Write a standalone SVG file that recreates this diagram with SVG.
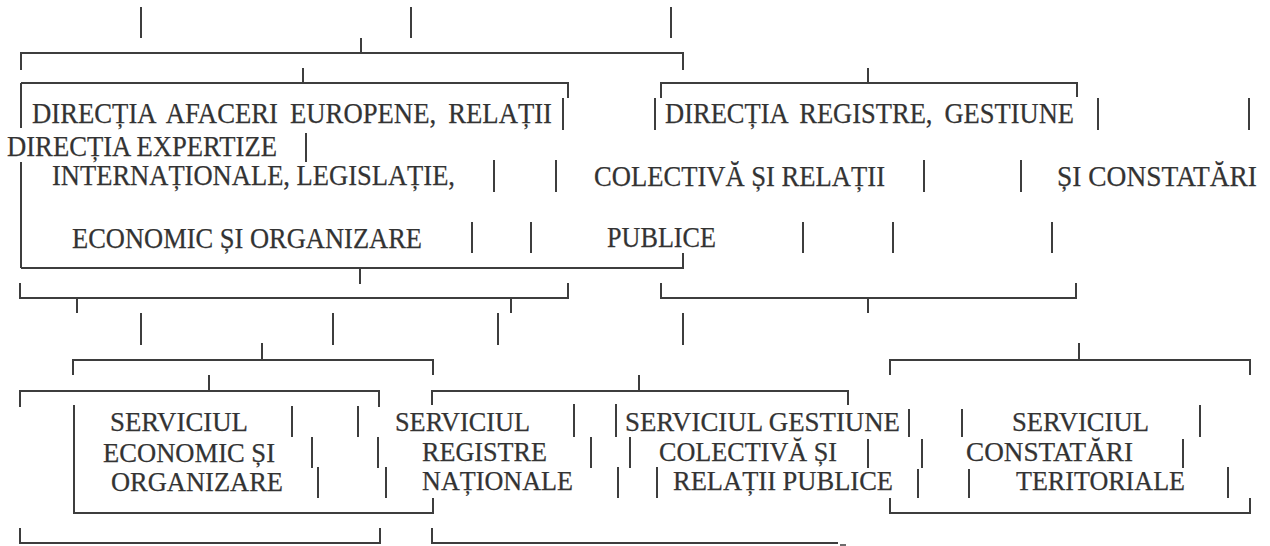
<svg xmlns="http://www.w3.org/2000/svg" width="1270" height="546" viewBox="0 0 1270 546">
<style>
.ln{stroke:#3d3d3d;stroke-width:2;fill:none;stroke-linecap:butt}
.t{font-family:"Liberation Serif","Times New Roman",serif;font-size:27.5px;fill:#333;stroke:#333;stroke-width:0.25}
.tt{font-family:"Liberation Serif","Times New Roman",serif;font-size:29.5px;fill:#333;stroke:#333;stroke-width:0.25}
.ws{word-spacing:6px}
</style>
<rect width="1270" height="546" fill="#fff"/>
<g id="connectors" class="ln">
<path d="M141 7V38M411 7V38M671 7V38"/>
<path d="M21 70V53H683V70M361 38V53"/>
<path d="M21 83H568V98M303 68V83"/>
<path d="M21 83V128M21 162V268"/>
<path d="M661 98V83H1077V97M868 68V83"/>
<path d="M563 98V130M655 98V130M1098 98V130M1249 98V130"/>
<path d="M306 133V162"/>
<path d="M494 160V192M556 160V192M924 160V192M1021 160V192"/>
<path d="M472 222V253M531 222V253M803 222V253M893 222V253M1052 222V253"/>
<path d="M21 268H683V253M360 268V284"/>
<path d="M20 283V298H568V283M77 298V313M511 298V313"/>
<path d="M661 283V298H1076V283M868 298V313"/>
<path d="M141 313V345M333 313V345M498 313V345M683 313V345"/>
<path d="M73 375V360H433V375M262 343V360"/>
<path d="M890 375V360H1250V375M1079 343V360"/>
<path d="M20 407V391H379V407M209 375V391"/>
<path d="M432 405V391H848V405M639 375V391"/>
<path d="M292 406V437M358 406V437M574 404V437M616 404V437M909 409V437M962 409V437M1200 405V437"/>
<path d="M312 437V468M378 437V468M591 437V468M630 437V468M868 439V468M922 439V468M1183 439V468"/>
<path d="M318 467V498M386 467V498M618 467V498M657 467V498M918 469V498M969 469V498M1228 467V498"/>
<path d="M74 405V513H433V498"/>
<path d="M890 498V513H1250V498"/>
<path d="M20 528V543H380V528"/>
<path d="M432 528V543H838"/>
<path d="M840 545H846" stroke-width="1.5"/>
</g>
<g id="node-directia-afaceri">
<text class="tt ws" x="32" y="123" textLength="520" lengthAdjust="spacingAndGlyphs">DIRECȚIA AFACERI EUROPENE, RELAȚII</text>
<text class="tt" x="52" y="185" textLength="403" lengthAdjust="spacingAndGlyphs">INTERNAȚIONALE, LEGISLAȚIE,</text>
<text class="tt" x="72" y="248" textLength="350" lengthAdjust="spacingAndGlyphs">ECONOMIC ȘI ORGANIZARE</text>
</g>
<g id="node-directia-expertize">
<text class="tt" x="7" y="156" textLength="270" lengthAdjust="spacingAndGlyphs">DIRECȚIA EXPERTIZE</text>
</g>
<g id="node-directia-registre">
<text class="tt ws" x="665" y="123" textLength="409" lengthAdjust="spacingAndGlyphs">DIRECȚIA REGISTRE, GESTIUNE</text>
<text class="tt" x="594" y="186" textLength="291" lengthAdjust="spacingAndGlyphs">COLECTIVĂ ȘI RELAȚII</text>
<text class="tt" x="607" y="247" textLength="109" lengthAdjust="spacingAndGlyphs">PUBLICE</text>
</g>
<g id="node-si-constatari">
<text class="tt" x="1057" y="186" textLength="200" lengthAdjust="spacingAndGlyphs">ȘI CONSTATĂRI</text>
</g>
<g id="node-serviciul-economic">
<text class="t" x="110" y="431" textLength="138" lengthAdjust="spacingAndGlyphs">SERVICIUL</text>
<text class="t" x="103" y="462" textLength="172" lengthAdjust="spacingAndGlyphs">ECONOMIC ȘI</text>
<text class="t" x="111" y="491" textLength="172" lengthAdjust="spacingAndGlyphs">ORGANIZARE</text>
</g>
<g id="node-serviciul-registre">
<text class="t" x="395" y="431" textLength="135" lengthAdjust="spacingAndGlyphs">SERVICIUL</text>
<text class="t" x="422" y="461" textLength="125" lengthAdjust="spacingAndGlyphs">REGISTRE</text>
<text class="t" x="422" y="490" textLength="151" lengthAdjust="spacingAndGlyphs">NAȚIONALE</text>
</g>
<g id="node-serviciul-gestiune">
<text class="t" x="625" y="431" textLength="275" lengthAdjust="spacingAndGlyphs">SERVICIUL GESTIUNE</text>
<text class="t" x="659" y="461" textLength="178" lengthAdjust="spacingAndGlyphs">COLECTIVĂ ȘI</text>
<text class="t" x="673" y="490" textLength="220" lengthAdjust="spacingAndGlyphs">RELAȚII PUBLICE</text>
</g>
<g id="node-serviciul-constatari">
<text class="t" x="1012" y="431" textLength="137" lengthAdjust="spacingAndGlyphs">SERVICIUL</text>
<text class="t" x="966" y="461" textLength="167" lengthAdjust="spacingAndGlyphs">CONSTATĂRI</text>
<text class="t" x="1016" y="490" textLength="169" lengthAdjust="spacingAndGlyphs">TERITORIALE</text>
</g>
</svg>
